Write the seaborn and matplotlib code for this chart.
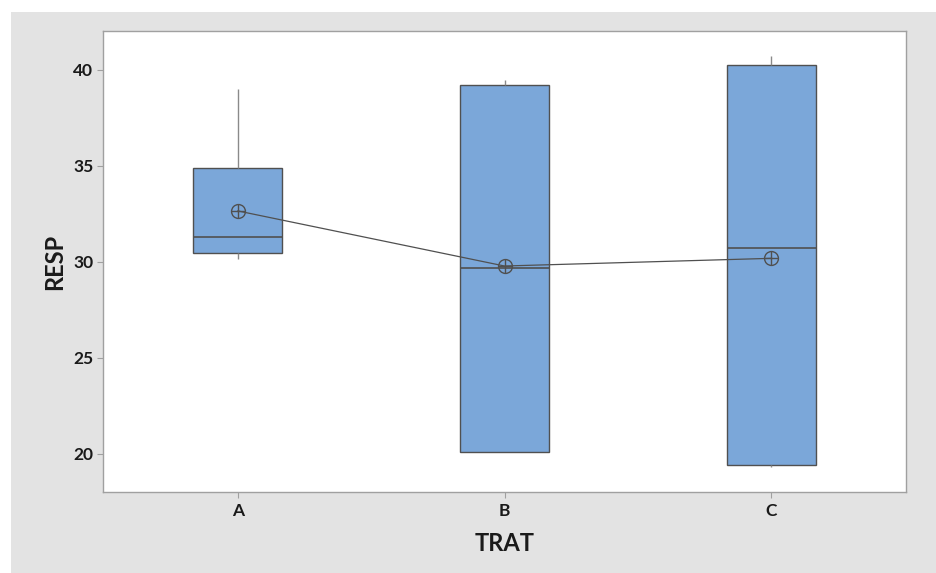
import matplotlib
matplotlib.use("Agg")
import matplotlib.pyplot as plt
from matplotlib.patches import Rectangle
import seaborn as sns
import pandas as pd

# Observations of the response for each treatment level
treatments = ["A", "B", "C"]
resp_a = [30.14, 30.30, 30.48, 30.90, 31.32, 31.80, 34.88, 35.09, 39.03]
resp_b = [20.09, 20.09, 20.09, 24.50, 29.70, 35.64, 39.22, 39.30, 39.48]
resp_c = [19.32, 19.37, 19.41, 25.20, 30.71, 36.19, 40.26, 40.50, 40.75]
y_ticks = [20, 25, 30, 35, 40]

df = pd.DataFrame({
    "TRAT": [t for t, vals in zip(treatments, [resp_a, resp_b, resp_c]) for _ in vals],
    "RESP": resp_a + resp_b + resp_c,
})

sns.set_theme(style="white")
plt.rcParams["font.family"] = ["Lato", "DejaVu Sans"]

W, H = 937, 573
fig = plt.figure(figsize=(W / 100, H / 100), dpi=100)
fig.patch.set_facecolor("white")
# grey chart panel behind the plotting area
fig.patches.append(Rectangle((11 / W, 0), 1 - 11 / W, (H - 12) / H,
                             transform=fig.transFigure, facecolor="#E3E3E3",
                             edgecolor="none", zorder=-10))

ax = fig.add_axes([103 / W, (H - 492) / H, (906 - 103) / W, (492 - 31) / H])
ax.set_facecolor("white")

box_fill = "#7BA7D9"
edge = "#505050"

sns.boxplot(data=df, x="TRAT", y="RESP", order=treatments, color=box_fill,
            saturation=1, width=0.333, linecolor=edge, linewidth=1.0,
            whis=1.5, showcaps=False,
            whiskerprops={"color": "#8a8a8a", "linewidth": 1.0},
            medianprops={"color": edge, "linewidth": 1.2},
            ax=ax, zorder=2)

# connected means with crossed-circle symbol
sns.pointplot(data=df, x="TRAT", y="RESP", order=treatments, estimator="mean",
              errorbar=None, color=edge, markers="o", linestyles="-",
              markersize=10, markerfacecolor="none", markeredgewidth=1.0,
              linewidth=0.9, ax=ax)
sns.pointplot(data=df, x="TRAT", y="RESP", order=treatments, estimator="mean",
              errorbar=None, color=edge, markers="+", linestyles="none",
              markersize=10, markeredgewidth=1.0, ax=ax)

ax.set_xlim(-0.505, 2.505)
ax.set_ylim(18.02, 42.03)
ax.set_yticks(y_ticks)
ax.set_yticklabels([str(v) for v in y_ticks])

for s in ax.spines.values():
    s.set_visible(True)
    s.set_color("#A0A0A0")
    s.set_linewidth(1.0)

ax.tick_params(axis="both", which="major", length=4, width=0.8, color="#A0A0A0",
               labelsize=12.5, labelcolor="#1a1a1a", pad=3, direction="out",
               bottom=True, left=True)
ax.tick_params(axis="x", pad=4)
for lbl in ax.get_xticklabels() + ax.get_yticklabels():
    lbl.set_fontweight("bold")

ax.set_xlabel("TRAT", fontsize=17, fontweight="bold", color="#1a1a1a", labelpad=9)
ax.set_ylabel("RESP", fontsize=17, fontweight="bold", color="#1a1a1a", labelpad=5)

fig.savefig("out.png", dpi=100, facecolor=fig.get_facecolor())
